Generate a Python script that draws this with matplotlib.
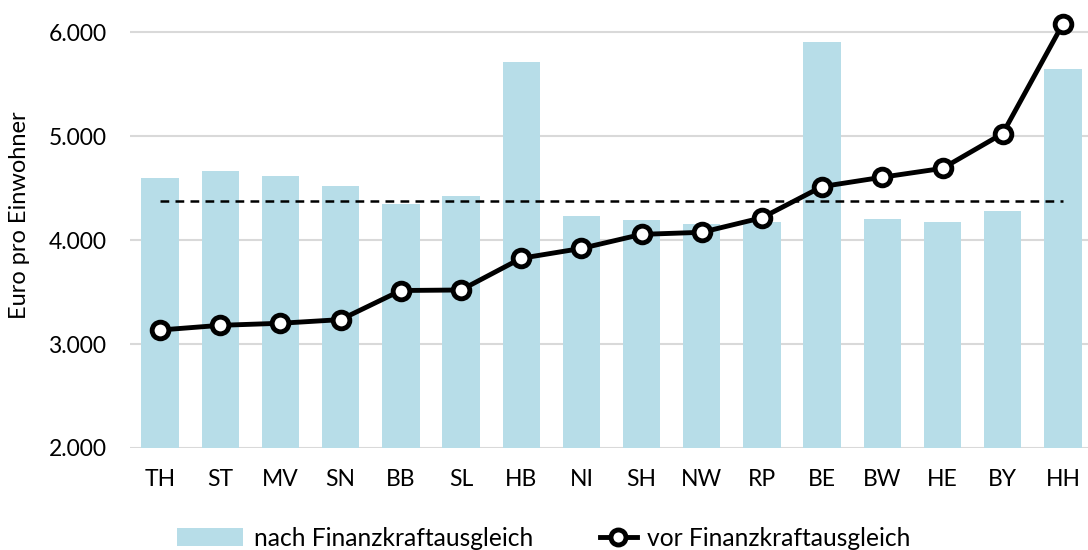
import matplotlib.pyplot as plt
from matplotlib.ticker import FuncFormatter

# Laender, sorted by Finanzkraft before equalisation
laender = ["TH", "ST", "MV", "SN", "BB", "SL", "HB", "NI",
           "SH", "NW", "RP", "BE", "BW", "HE", "BY", "HH"]

# Euro pro Einwohner after equalisation (bars)
nach_ausgleich = [4600, 4665, 4615, 4520, 4345, 4425, 5715, 4235,
                  4195, 4155, 4175, 5910, 4205, 4175, 4280, 5645]

# Euro pro Einwohner before equalisation (line)
vor_ausgleich = [3135, 3180, 3200, 3235, 3515, 3520, 3825, 3920,
                 4055, 4075, 4215, 4515, 4605, 4690, 5025, 6080]

# Laender average (dashed line)
durchschnitt = 4375

BAR_COLOR = "#b7dde8"

plt.rcParams["font.family"] = ["Lato", "DejaVu Sans"]

fig = plt.figure(figsize=(10.88, 5.5), dpi=100)
ax = fig.add_axes([130 / 1088, 1 - 448 / 550, (1093 - 130) / 1088, 447 / 550])

x = list(range(len(laender)))
bars = ax.bar(x, nach_ausgleich, width=0.62, color=BAR_COLOR, zorder=2)
line, = ax.plot(x, vor_ausgleich, color="black", lw=3.5, marker="o", ms=12,
                mfc="white", mec="black", mew=3.5, zorder=4)
ax.plot([x[0], x[-1]], [durchschnitt, durchschnitt], color="black",
        lw=1.8, ls=(0, (3.5, 2.5)), zorder=3)

ax.set_xlim(-0.5, len(laender) - 0.5)
ax.set_ylim(2000, 6300)
ax.set_yticks([2000, 3000, 4000, 5000, 6000])
ax.yaxis.set_major_formatter(FuncFormatter(lambda v, _: f"{v:,.0f}".replace(",", ".")))
ax.set_xticks(x)
ax.set_xticklabels(laender)
ax.tick_params(axis="both", length=0, labelsize=16.5, colors="black")
ax.tick_params(axis="x", pad=15)
ax.tick_params(axis="y", pad=17)

ax.grid(axis="y", color="#d9d9d9", lw=1.5, zorder=0)
ax.set_axisbelow(True)
for s in ax.spines.values():
    s.set_visible(False)

fig.text(20 / 1088, 1 - 215 / 550, "Euro pro Einwohner", rotation=90,
         ha="center", va="center", fontsize=17)

# two separate legend entries, Excel style (wide patch, short line handle)
leg1 = fig.legend([bars], ["nach Finanzkraftausgleich"], loc="center left",
                  bbox_to_anchor=(177 / 1088, 1 - 538 / 550), frameon=False,
                  fontsize=17.7, handlelength=2.7, handleheight=0.7,
                  handletextpad=0.42, borderpad=0, borderaxespad=0)
leg2 = fig.legend([line], ["vor Finanzkraftausgleich"], loc="center left",
                  bbox_to_anchor=(600 / 1088, 1 - 538 / 550), frameon=False,
                  fontsize=17.7, handlelength=1.5, markerscale=0.9,
                  handletextpad=0.42, borderpad=0, borderaxespad=0)

fig.savefig("out.png", dpi=100)
